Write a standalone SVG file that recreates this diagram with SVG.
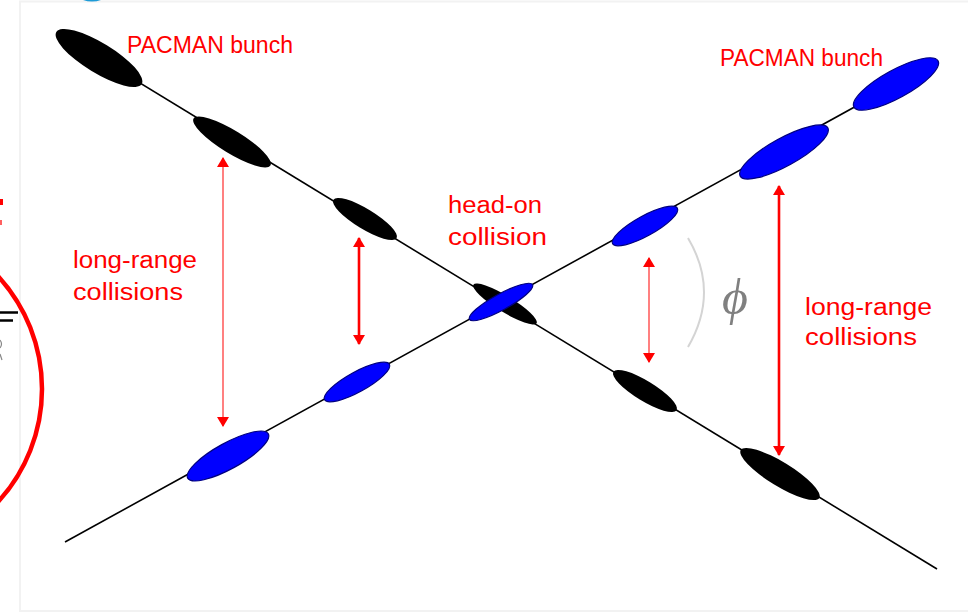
<svg xmlns="http://www.w3.org/2000/svg" width="968" height="612" viewBox="0 0 968 612">
  <style>
    .lbl { font-family: "Liberation Sans", Arial, sans-serif; font-size: 23px; fill: #ff0000; }
    .blk { fill: #000000; }
    .blu { fill: #0000ff; stroke: #000080; stroke-width: 1.2; }
    .beam { stroke: #000000; stroke-width: 1.6; fill: none; }
    .arr-light { stroke: #ff8080; stroke-width: 2; fill: none; }
    .arr-dark { stroke: #ff0000; stroke-width: 2.6; fill: none; }
  </style>
  <defs>
    <marker id="ah" viewBox="0 0 10 12" refX="9" refY="6" markerWidth="10" markerHeight="12" markerUnits="userSpaceOnUse" orient="auto-start-reverse">
      <path d="M0,0 L10,6 L0,12 Z" fill="#ff0000"/>
    </marker>
  </defs>
  <rect x="0" y="0" width="968" height="612" fill="#ffffff"/>
  <rect x="20" y="1.5" width="960" height="609.5" fill="#ffffff" stroke="#f2f2f2" stroke-width="2"/>

  <!-- cut-off surroundings -->
  <g id="outside">
    <circle cx="92" cy="-24.5" r="24" fill="none" stroke="#1e9bd7" stroke-width="4"/>
    <circle cx="-125" cy="389" r="167" fill="none" stroke="#ff0000" stroke-width="4.5"/>
    <line x1="0" y1="312.5" x2="18" y2="312.5" stroke="#000" stroke-width="2.5"/>
    <line x1="0" y1="320.5" x2="13" y2="320.5" stroke="#000" stroke-width="2.5"/>
    <path d="M0,340 Q3,344 0,348 M0,354 L2,360" stroke="#888" stroke-width="1.2" fill="none"/>
    <rect x="0" y="199" width="3" height="6" fill="#ff0000"/>
    <rect x="0" y="220" width="2" height="5" fill="#ff6060"/>
  </g>

  <g id="connectors">
    <line class="beam" x1="57" y1="32.4" x2="937" y2="569"/>
    <line class="beam" x1="65" y1="542" x2="938" y2="61"/>
    <line class="arr-light" x1="223" y1="158" x2="223" y2="426" marker-start="url(#ah)" marker-end="url(#ah)"/>
    <line class="arr-dark" x1="359" y1="238" x2="359" y2="344" marker-start="url(#ah)" marker-end="url(#ah)"/>
    <line class="arr-light" x1="649" y1="258" x2="649" y2="362" marker-start="url(#ah)" marker-end="url(#ah)"/>
    <line class="arr-dark" x1="779" y1="186" x2="779" y2="455" stroke-width="3" marker-start="url(#ah)" marker-end="url(#ah)"/>
    <path id="angle-arc" d="M688,238 Q720,292 688,347" fill="none" stroke="#d4d4d4" stroke-width="2"/>
  </g>

  <!-- black beam bunches -->
  <g id="b1"><ellipse class="blk" cx="99" cy="58" rx="50" ry="15" transform="rotate(31.4 99 58)"/></g>
  <g id="b2"><ellipse class="blk" cx="232" cy="142" rx="45" ry="11.5" transform="rotate(31.4 232 142)"/></g>
  <g id="b3"><ellipse class="blk" cx="365" cy="219" rx="37" ry="10" transform="rotate(31.4 365 219)"/></g>
  <g id="b4"><ellipse class="blk" cx="505" cy="304" rx="37" ry="8" transform="rotate(31.4 505 304)"/></g>
  <g id="b5"><ellipse class="blk" cx="645" cy="391" rx="37" ry="10" transform="rotate(31.4 645 391)"/></g>
  <g id="b6"><ellipse class="blk" cx="780" cy="474" rx="46" ry="12" transform="rotate(31.4 780 474)"/></g>

  <!-- blue beam bunches -->
  <g id="u1"><ellipse class="blu" cx="228" cy="456" rx="46" ry="13" transform="rotate(-28.8 228 456)"/></g>
  <g id="u2"><ellipse class="blu" cx="357" cy="382" rx="37" ry="10" transform="rotate(-28.8 357 382)"/></g>
  <g id="u3"><ellipse class="blu" cx="501" cy="302" rx="36" ry="8" transform="rotate(-28.8 501 302)"/></g>
  <g id="u4"><ellipse class="blu" cx="645" cy="226" rx="37" ry="10" transform="rotate(-28.8 645 226)"/></g>
  <g id="u5"><ellipse class="blu" cx="784" cy="152" rx="50" ry="14" transform="rotate(-28.8 784 152)"/></g>
  <g id="u6"><ellipse class="blu" cx="896" cy="84" rx="48" ry="14" transform="rotate(-28.8 896 84)"/></g>

  <!-- labels -->
  <g id="lbl-pacman-left"><text class="lbl" x="127" y="53" textLength="166" lengthAdjust="spacingAndGlyphs">PACMAN bunch</text></g>
  <g id="lbl-pacman-right"><text class="lbl" x="720" y="66" textLength="163" lengthAdjust="spacingAndGlyphs">PACMAN bunch</text></g>
  <g id="lbl-headon">
    <text class="lbl" x="448" y="213" textLength="94" lengthAdjust="spacingAndGlyphs">head-on</text>
    <text class="lbl" x="448" y="245" textLength="99" lengthAdjust="spacingAndGlyphs">collision</text>
  </g>
  <g id="lbl-lr-left">
    <text class="lbl" x="73" y="268" textLength="124" lengthAdjust="spacingAndGlyphs">long-range</text>
    <text class="lbl" x="73" y="300" textLength="110" lengthAdjust="spacingAndGlyphs">collisions</text>
  </g>
  <g id="lbl-lr-right">
    <text class="lbl" x="805" y="315" textLength="127" lengthAdjust="spacingAndGlyphs">long-range</text>
    <text class="lbl" x="805" y="345" textLength="112" lengthAdjust="spacingAndGlyphs">collisions</text>
  </g>
  <g id="lbl-phi"><text x="735" y="314" text-anchor="middle" font-family="'Liberation Serif', 'DejaVu Serif', serif" font-style="italic" font-size="50" fill="#808080">ϕ</text></g>
</svg>
